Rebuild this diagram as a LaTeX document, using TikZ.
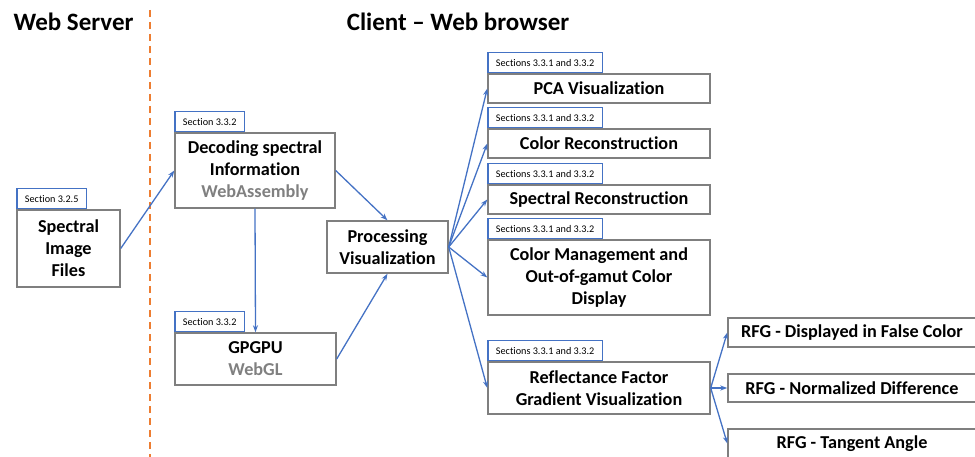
\documentclass[tikz,border=0pt]{standalone}
\usepackage{fontspec}
\setmainfont{Carlito}[Ligatures=NoCommon]
\usepackage{xcolor}
\usepackage{tikz}
\usetikzlibrary{positioning, arrows.meta}

\definecolor{arrowblue}{RGB}{68,114,196}
\definecolor{dashorange}{RGB}{237,125,49}
\definecolor{boxgray}{RGB}{127,127,127}
\definecolor{softgray}{RGB}{128,128,128}

\begin{document}
\begin{tikzpicture}[
  x=1pt, y=-1pt,
  box/.style={rectangle, draw=boxgray, line width=1.4pt, fill=white, align=center, inner sep=0pt,
    font=\bfseries\fontsize{18.2}{22}\selectfont},
  tab/.style={rectangle, draw=arrowblue, line width=1.3pt, fill=white, anchor=south west,
    inner xsep=8pt, inner ysep=0pt, minimum height=20pt, font=\fontsize{10.2}{12}\selectfont},
  arr/.style={-{Stealth[length=7pt, width=5pt]}, draw=arrowblue, line width=1.3pt},
  heading/.style={font=\bfseries\fontsize{25}{28}\selectfont}
]
\useasboundingbox (0,0) rectangle (975,457);

% --- Headings and divider ---
\node[heading, anchor=west] (hserver) at (10,22) {Web Server};
\node[heading] (hclient) at (458,22) {Client -- Web browser};
\draw[dashorange, line width=1.8pt, dash pattern=on 7pt off 5pt] (150,10) -- (150,457);

% --- Server side ---
\node[box, minimum width=103pt, minimum height=77pt] (spec) at (68.5,248.5) {Spectral\\Image\\Files};
\node[tab] (tabspec) at (spec.north west) {Section 3.2.5};

% --- Decoding and GPGPU ---
\node[box, minimum width=160pt, minimum height=75pt] (dec) at (255,170.5)
  {Decoding spectral\\Information\\\textcolor{softgray}{WebAssembly}};
\node[tab] (tabdec) at (dec.north west) {Section 3.3.2};

\node[box, minimum width=161pt, minimum height=52pt] (gpu) at (255.5,359)
  {GPGPU\\\textcolor{softgray}{WebGL}};
\node[tab] (tabgpu) at (gpu.north west) {Section 3.3.2};

\node[box, minimum width=121pt, minimum height=52pt] (proc) at (387.5,247) {Processing\\Visualization};

% --- Visualizations ---
\node[box, minimum width=222pt, minimum height=29pt] (pca) at (599,88.5) {PCA Visualization};
\node[tab] (tabpca) at (pca.north west) {Sections 3.3.1 and 3.3.2};

\node[box, minimum width=222pt, minimum height=29pt] (crec) at (599,143.5) {Color Reconstruction};
\node[tab] (tabcrec) at (crec.north west) {Sections 3.3.1 and 3.3.2};

\node[box, minimum width=222pt, minimum height=29pt] (srec) at (599,199.5) {Spectral Reconstruction};
\node[tab] (tabsrec) at (srec.north west) {Sections 3.3.1 and 3.3.2};

\node[box, minimum width=222pt, minimum height=75pt] (cman) at (599,277.5)
  {Color Management and\\Out-of-gamut Color\\Display};
\node[tab] (tabcman) at (cman.north west) {Sections 3.3.1 and 3.3.2};

\node[box, minimum width=222pt, minimum height=52pt] (rfg) at (599,388)
  {Reflectance Factor\\Gradient Visualization};
\node[tab] (tabrfg) at (rfg.north west) {Sections 3.3.1 and 3.3.2};

% --- RFG variants ---
\node[box, minimum width=248pt, minimum height=29pt] (rfgfalse) at (852,332.5) {RFG - Displayed in False Color};
\node[box, minimum width=248pt, minimum height=28pt] (rfgnorm) at (852,388) {RFG - Normalized Difference};
\node[box, minimum width=248pt, minimum height=29pt] (rfgtan) at (852,443.5) {RFG - Tangent Angle};

% --- Connectors ---
\draw[arr] (spec.east) -- (dec.west);
\draw[arr] (dec.east) -- (proc.north);
\draw[arr] (dec.south) -- (gpu.north);
\draw[arr] (gpu.east) -- (proc.south);
\draw[arr] (proc.east) -- (pca.west);
\draw[arr] (proc.east) -- (crec.west);
\draw[arr] (proc.east) -- (srec.west);
\draw[arr] (proc.east) -- (cman.west);
\draw[arr] (proc.east) -- (rfg.west);
\draw[arr] (rfg.east) -- (rfgfalse.west);
\draw[arr] (rfg.east) -- (rfgnorm.west);
\draw[arr] (rfg.east) -- (rfgtan.west);

\end{tikzpicture}
\end{document}
